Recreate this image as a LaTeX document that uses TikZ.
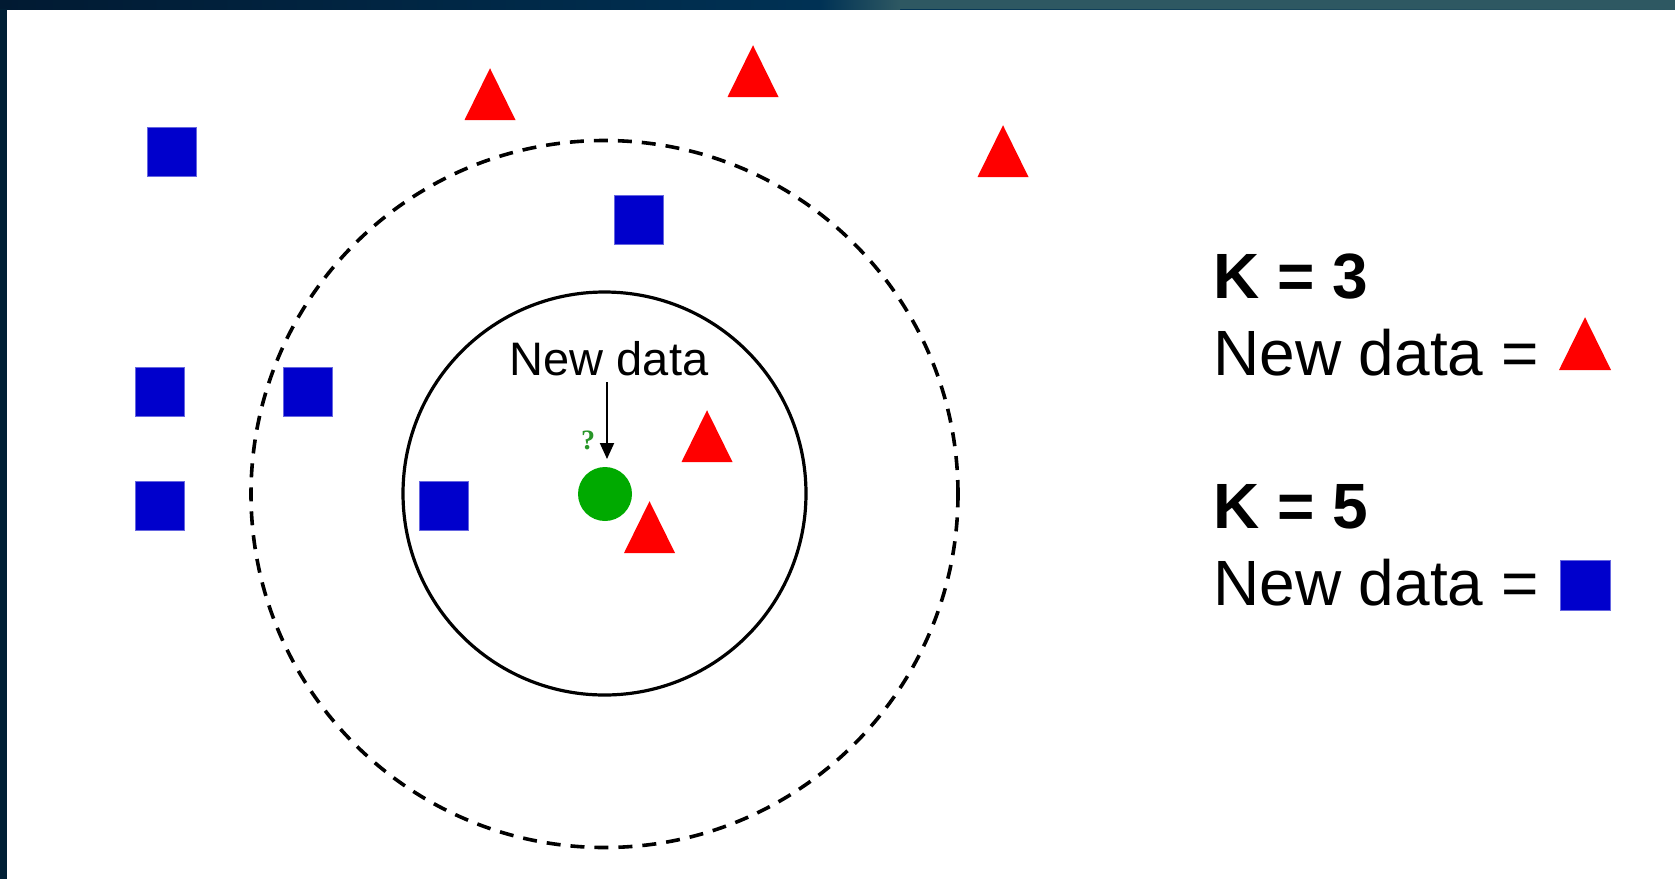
\documentclass[tikz,border=0pt]{standalone}
\usepackage{fontspec}
\setmainfont{Liberation Sans}
\newfontfamily\qfont{Liberation Serif}
\usetikzlibrary{arrows.meta}
\definecolor{ptblue}{RGB}{0,0,204}
\definecolor{ptred}{RGB}{255,0,0}
\definecolor{ptgreen}{RGB}{0,170,0}
\definecolor{qgreen}{RGB}{40,150,40}
\definecolor{bandA}{RGB}{1,26,50}
\definecolor{bandB}{RGB}{0,50,85}
\definecolor{bandC}{RGB}{46,88,98}
\definecolor{bandL}{RGB}{0,31,53}
\tikzset{
  sq/.style={fill=ptblue, draw=ptblue!60, line width=0.6pt, inner sep=0pt, minimum width=49pt, minimum height=49pt},
  dot/.style={circle, fill=ptgreen, inner sep=0pt, minimum size=54pt},
  trishape/.pic={\fill[ptred] (-#1,0) -- (#1,0) -- (0,-2.03*#1) -- cycle;},
  legend/.style={anchor=base west, inner sep=0pt, font=\fontsize{64}{64}\selectfont},
}
\begin{document}
\begin{tikzpicture}[x=1pt,y=-1pt]
\useasboundingbox (0,0) rectangle (1675,879);
\fill[white] (0,0) rectangle (1675,879);
% frame bands
\shade[left color=bandA, right color=bandC, middle color=bandB] (0,0) rectangle (1675,9);
\fill[bandC] (900,0) rectangle (1675,9);
\shade[left color=bandB, right color=bandC] (820,0) rectangle (900,9);
\fill[bandL] (0,0) rectangle (7,879);
\fill[bandA] (0,0) rectangle (7,9);

% circles
\node (outer) [circle, draw, line width=3.6pt, dash pattern=on 14pt off 10pt, minimum size=707pt, inner sep=0pt] at (604.5,494) {};
\node (inner) [circle, draw, line width=3.2pt, minimum size=403pt, inner sep=0pt] at (604.5,493.5) {};

% blue squares
\node (s1) [sq] at (171.5,152) {};
\node (s2) [sq] at (638.5,220) {};
\node (s3) [sq] at (159.5,391.5) {};
\node (s4) [sq] at (307.5,391.5) {};
\node (s5) [sq] at (159.5,505.5) {};
\node (s6) [sq] at (444,505.5) {};

% red triangles
\pic (t1) at (490,120) {trishape=25.5};
\pic (t2) at (753,97) {trishape=25.5};
\pic (t3) at (1003,177) {trishape=25.5};
\pic (t4) at (707,462) {trishape=25.5};
\pic (t5) at (649.5,553) {trishape=25.5};

% new point
\node (pt) [dot] at (605,494) {};
\node (q) [text=qgreen, inner sep=0pt, font=\qfont\bfseries\fontsize{28}{28}\selectfont] at (588,440) {?};
\node (lbl) [anchor=base, inner sep=0pt, font=\fontsize{47}{47}\selectfont] at (609,375) {New data};
\coordinate (astart) at (607,382);
\draw[line width=2pt, -{Triangle[length=16pt,width=14pt]}] (astart) -- (607,459);

% legend
\node (k3) [legend] at (1213,298) {\bfseries K = 3};
\node (n3) [legend] at (1213,375) {New data =};
\pic (lt) at (1585,370) {trishape=26};
\node (k5) [legend] at (1213,528) {\bfseries K = 5};
\node (n5) [legend] at (1213,605) {New data =};
\node (ls) [sq, minimum width=50pt, minimum height=50pt] at (1585,585) {};
\end{tikzpicture}
\end{document}
